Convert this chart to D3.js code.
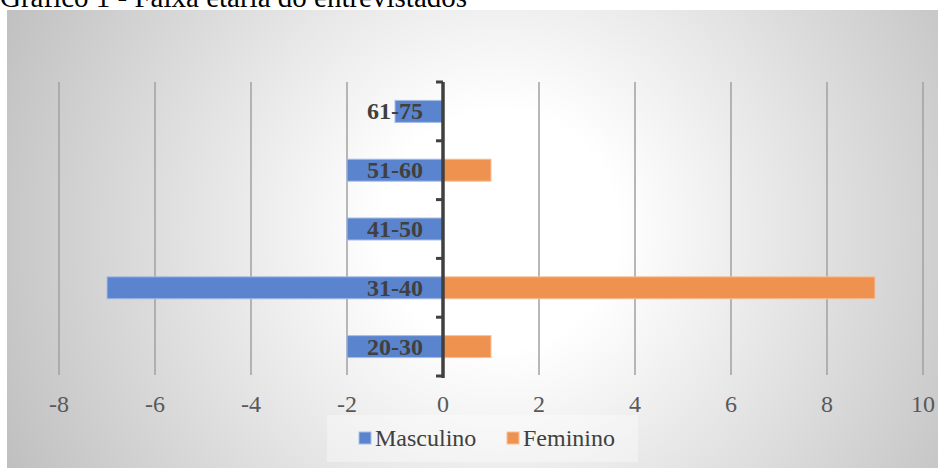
<!DOCTYPE html>
<html><head><meta charset="utf-8">
<script src="https://cdn.jsdelivr.net/npm/d3@7"></script>
<style>body{margin:0;background:#fff}svg{display:block}</style>
</head><body>
<svg id="c" width="939" height="468"></svg>
<script>
const categories = ["20-30","31-40","41-50","51-60","61-75"];
const masculino = [-2,-7,-2,-2,-1];
const feminino = [1,9,0,1,0];
const xTicks = [-8,-6,-4,-2,0,2,4,6,8,10];
const seriesNames = ["Masculino","Feminino"];
const colors = ["#5b84cf","#ef914f"];
const strokes = ["#a7bde6","#f6c29c"];
const title = "Gráfico 1 - Faixa etária do entrevistados";
const FONT = "'Liberation Serif', 'Times New Roman', serif";

const svg = d3.select("#c");
const defs = svg.append("defs");
const g = defs.append("radialGradient").attr("id","bg").attr("gradientUnits","userSpaceOnUse")
  .attr("cx",500).attr("cy",230).attr("r",590);
g.append("stop").attr("offset","0").attr("stop-color","#ffffff");
g.append("stop").attr("offset","0.2").attr("stop-color","#ffffff");
g.append("stop").attr("offset","1").attr("stop-color","#b9b9b9");

svg.append("rect").attr("x",7).attr("y",10).attr("width",931).attr("height",458).attr("fill","url(#bg)");

svg.append("text").attr("x",0).attr("y",7).text(title)
  .style("font-family",FONT).attr("font-size",29).attr("fill","#000");

const x = d3.scaleLinear().domain([-8,10]).range([59,923]);
const y = d3.scaleBand().domain(categories.slice().reverse()).range([82,376]);
const barH = y.bandwidth()*0.374;

// gridlines
svg.append("g").selectAll("line").data(xTicks.filter(d=>d!==0)).join("line")
  .attr("x1",d=>x(d)).attr("x2",d=>x(d)).attr("y1",82).attr("y2",375)
  .attr("stroke","#a0a0a0").attr("stroke-width",1.5);

// tick labels
svg.append("g").selectAll("text").data(xTicks).join("text")
  .attr("x",d=>x(d)).attr("y",404).attr("text-anchor","middle").attr("dominant-baseline","central")
  .style("font-family",FONT).attr("font-size",24).attr("fill","#595959")
  .text(d=>d);

// bars
const series = [masculino, feminino];
series.forEach((vals,si)=>{
  svg.append("g").selectAll("rect").data(categories.map((c,i)=>({c,v:vals[i]})).filter(d=>d.v!==0)).join("rect")
    .attr("x",d=>Math.min(x(0),x(d.v))).attr("width",d=>Math.abs(x(d.v)-x(0)))
    .attr("y",d=>y(d.c)+y.bandwidth()/2-barH/2).attr("height",barH)
    .attr("fill",colors[si]).attr("stroke",strokes[si]).attr("stroke-width",1);
});

// axis
const ax = svg.append("g");
ax.append("line").attr("x1",x(0)).attr("x2",x(0)).attr("y1",82).attr("y2",378)
  .attr("stroke","#404040").attr("stroke-width",3.5);
const bounds = categories.map(c=>y(c)).concat([y.range()[1]]);
ax.selectAll("line.t").data(bounds).join("line").attr("class","t")
  .attr("x1",x(0)-7).attr("x2",x(0)).attr("y1",d=>d).attr("y2",d=>d)
  .attr("stroke","#404040").attr("stroke-width",3);

// category labels
svg.append("g").selectAll("text").data(categories).join("text")
  .attr("x",x(0)-20).attr("y",d=>y(d)+y.bandwidth()/2).attr("text-anchor","end").attr("dominant-baseline","central")
  .style("font-family",FONT).attr("font-size",24).attr("font-weight","bold")
  .attr("fill","#404040").text(d=>d);

// legend
svg.append("rect").attr("x",327).attr("y",415).attr("width",311).attr("height",47).attr("fill","#ffffff").attr("opacity",0.35);
const lx = [359,507];
seriesNames.forEach((n,i)=>{
  svg.append("rect").attr("x",lx[i]).attr("y",432).attr("width",12).attr("height",12).attr("fill",colors[i]).attr("stroke",strokes[i]);
  svg.append("text").attr("x",lx[i]+16).attr("y",438).attr("dominant-baseline","central")
    .style("font-family",FONT).attr("font-size",24).attr("fill","#404040").text(n);
});
</script>
</body></html>
